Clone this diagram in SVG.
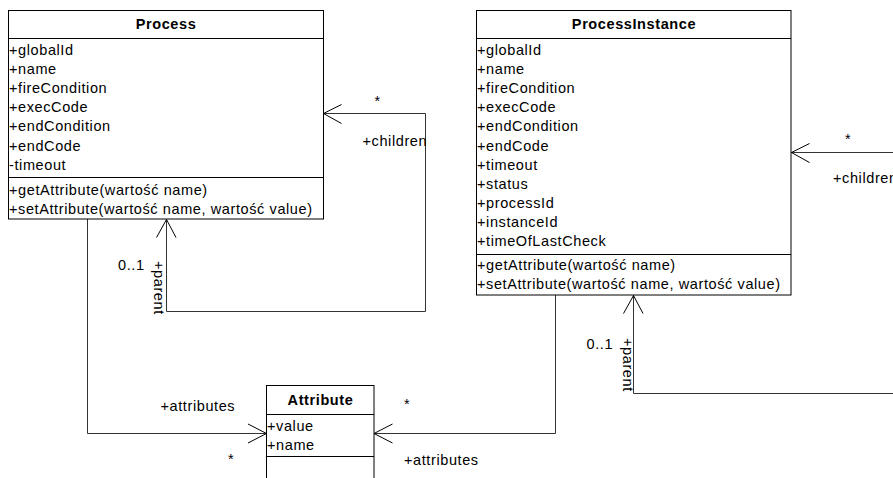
<svg xmlns="http://www.w3.org/2000/svg" width="893" height="478" viewBox="0 0 893 478">
<style>
text { font-family: "Liberation Sans", Arial, sans-serif; font-size: 14.5px; letter-spacing: 0.6px; fill: #000; }
.title { font-weight: bold; text-anchor: middle; }
.box { fill: #fff; stroke: #000; stroke-width: 1; }
.sep { stroke: #000; stroke-width: 1; fill: none; }
.conn { fill: none; stroke: #333; stroke-width: 1; }
.arrow { fill: none; stroke: #000; stroke-width: 1; }
</style>
<rect width="893" height="478" fill="#fff"/>

<g id="connectors">
  <!-- Process -> Attribute -->
  <path class="conn" d="M87.5 219 V433.5 H266.5"/>
  <path class="arrow" d="M248 424 L266.5 433.5 L248 443"/>
  <text x="160.5" y="411">+attributes</text>
  <text x="228" y="464">*</text>
  <!-- ProcessInstance -> Attribute -->
  <path class="conn" d="M555.5 295 V433.5 H374"/>
  <path class="arrow" d="M392.5 424 L374 433.5 L392.5 443"/>
  <text x="404" y="409">*</text>
  <text x="404" y="465">+attributes</text>
  <!-- Process self association -->
  <path class="conn" d="M323 113.5 H425.5 V311.5 H166.5 V219"/>
  <path class="arrow" d="M341.5 104.5 L323.5 113.5 L341.5 123.5"/>
  <path class="arrow" d="M156.5 237.5 L166.5 219.5 L176 237.5"/>
  <text x="374.5" y="106">*</text>
  <text x="362.5" y="146">+children</text>
  <text x="118" y="270">0..1</text>
  <text transform="translate(153.5,261) rotate(90)">+parent</text>
  <!-- ProcessInstance self association -->
  <path class="conn" d="M791 152.5 H900"/>
  <path class="conn" d="M633.5 295 V393.5 H900"/>
  <path class="arrow" d="M809.5 143.5 L791.5 152.5 L809.5 162.5"/>
  <path class="arrow" d="M623.5 313.5 L633.5 295.5 L643 313.5"/>
  <text x="845" y="144">*</text>
  <text x="833" y="183">+children</text>
  <text x="586.5" y="349">0..1</text>
  <text transform="translate(622.5,338) rotate(90)">+parent</text>
</g>

<g id="process">
  <rect class="box" x="8.5" y="10.5" width="315" height="208.5"/>
  <path class="sep" d="M8.5 38.5 H323.5 M8.5 177.5 H323.5"/>
  <text class="title" x="166" y="29">Process</text>
  <text x="9" y="55">+globalId</text>
  <text x="9" y="74.1">+name</text>
  <text x="9" y="93.2">+fireCondition</text>
  <text x="9" y="112.3">+execCode</text>
  <text x="9" y="131.4">+endCondition</text>
  <text x="9" y="150.5">+endCode</text>
  <text x="9" y="169.6">-timeout</text>
  <text x="9" y="195">+getAttribute(wartość name)</text>
  <text x="9" y="214">+setAttribute(wartość name, wartość value)</text>
</g>

<g id="processinstance">
  <rect class="box" x="476.5" y="10.5" width="314.5" height="284.5"/>
  <path class="sep" d="M476.5 38.5 H791 M476.5 254.5 H791"/>
  <text class="title" x="634" y="29">ProcessInstance</text>
  <text x="477" y="55">+globalId</text>
  <text x="477" y="74.1">+name</text>
  <text x="477" y="93.2">+fireCondition</text>
  <text x="477" y="112.3">+execCode</text>
  <text x="477" y="131.4">+endCondition</text>
  <text x="477" y="150.5">+endCode</text>
  <text x="477" y="169.6">+timeout</text>
  <text x="477" y="188.7">+status</text>
  <text x="477" y="207.8">+processId</text>
  <text x="477" y="226.9">+instanceId</text>
  <text x="477" y="246">+timeOfLastCheck</text>
  <text x="477" y="270">+getAttribute(wartość name)</text>
  <text x="477" y="289.3">+setAttribute(wartość name, wartość value)</text>
</g>

<g id="attribute">
  <rect class="box" x="266.5" y="385.5" width="107.5" height="110"/>
  <path class="sep" d="M266.5 414.5 H374 M266.5 456.5 H374"/>
  <text class="title" x="320.5" y="404.5">Attribute</text>
  <text x="267" y="431">+value</text>
  <text x="267" y="450">+name</text>
</g>
</svg>
